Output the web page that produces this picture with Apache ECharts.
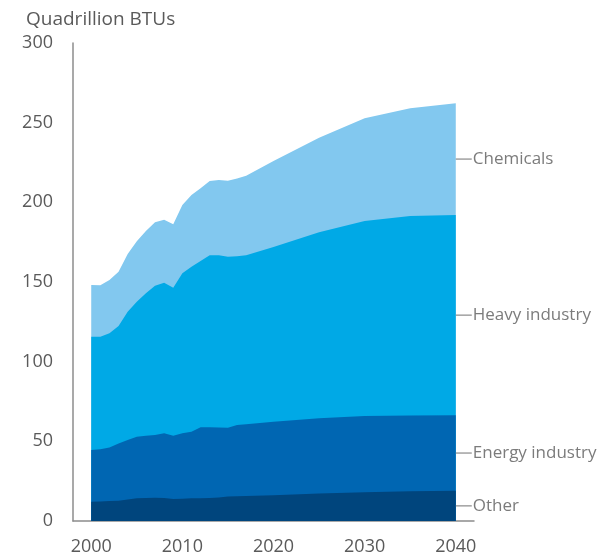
<!DOCTYPE html>
<html>
<head>
<meta charset="utf-8">
<script src="https://cdn.jsdelivr.net/npm/echarts@6/dist/echarts.min.js"></script>
<style>
    html, body { margin: 0; padding: 0; background: #fff; }
    #chart { width: 601px; height: 559px; }
</style>
</head>
<body>
<div id="chart"></div>
<script>
// years (yearly to 2017, then projections)
var years = [2000, 2001, 2002, 2003, 2004, 2005, 2006, 2007, 2008, 2009, 2010, 2011, 2012, 2013, 2014, 2015, 2016, 2017, 2020, 2025, 2030, 2035, 2040];
var other = [12.1, 12.3, 12.5, 12.7, 13.5, 14.2, 14.5, 14.6, 14.4, 13.8, 14.0, 14.2, 14.3, 14.4, 14.8, 15.3, 15.5, 15.7, 16.2, 17.2, 18.0, 18.6, 19.0];
var energyIndustry = [32.5, 32.7, 33.7, 36.0, 37.3, 38.7, 39.0, 39.4, 40.6, 39.7, 41.0, 41.8, 44.5, 44.4, 43.9, 43.3, 44.8, 45.1, 46.1, 47.3, 47.9, 47.6, 47.3];
var heavyIndustry = [71.1, 70.7, 71.6, 73.7, 80.6, 84.7, 89.5, 93.7, 94.6, 92.9, 100.5, 103.6, 104.4, 108.0, 108.1, 107.3, 105.8, 106.0, 109.7, 116.7, 122.4, 125.2, 125.8];
var chemicals = [32.4, 32.3, 33.5, 34.1, 36.1, 37.9, 39.0, 39.8, 39.4, 39.8, 42.8, 45.0, 45.6, 46.6, 47.2, 47.7, 48.9, 49.9, 54.0, 59.4, 64.4, 67.6, 70.1];
var xTicks = [2000, 2010, 2020, 2030, 2040];

var names = ['Other', 'Energy industry', 'Heavy industry', 'Chemicals'];
var colors = ['#00457d', '#0066b2', '#00a9e6', '#82c8ef'];
var values = [other, energyIndustry, heavyIndustry, chemicals];

var textColor = '#5a5a5a';
var font = '"Open Sans", sans-serif';

var myChart = echarts.init(document.getElementById('chart'));

// running totals, each band drawn as an area from zero, top band first
var cumul = [];
for (var i = 0; i < values.length; i++) {
    var row = [];
    for (var j = 0; j < years.length; j++) {
        row.push((i > 0 ? cumul[i - 1][j] : 0) + values[i][j]);
    }
    cumul.push(row);
}

var series = [];
for (var s = values.length - 1; s >= 0; s--) {
    var pts = [];
    for (var j2 = 0; j2 < years.length; j2++) {
        pts.push([years[j2], cumul[s][j2]]);
    }
    series.push({
        name: names[s],
        type: 'line',
        symbol: 'none',
        silent: true,
        lineStyle: { width: 0 },
        areaStyle: { color: colors[s], opacity: 1, origin: 'start' },
        data: pts
    });
}

// end labels: middle of each band at the last year
var last = years.length - 1;
var labelPts = [];
for (var k = 0; k < values.length; k++) {
    labelPts.push({ value: [years[last], cumul[k][last] - values[k][last] / 2], name: names[k] });
}
series.push({
    type: 'scatter',
    symbol: 'rect',
    symbolSize: [16, 1.3],
    symbolOffset: [8, 0],
    silent: true,
    itemStyle: { color: '#777' },
    label: {
        show: true,
        position: 'right',
        distance: 1,
        formatter: '{b}',
        color: textColor,
        fontSize: 17,
        fontFamily: font
    },
    data: labelPts,
    z: 5
});

var option = {
    animation: false,
    title: {
        text: 'Quadrillion BTUs',
        left: 21,
        top: 5,
        textStyle: { color: textColor, fontSize: 19, fontWeight: 'normal', fontFamily: font }
    },
    grid: { left: 73, right: 127, top: 43, bottom: 38, containLabel: false },
    xAxis: {
        type: 'value',
        min: 1998,
        max: 2042,
        splitLine: { show: false },
        axisTick: { show: false },
        axisLine: { lineStyle: { color: '#8c8c8c', width: 1.5 } },
        axisLabel: {
            customValues: xTicks,
            formatter: function (v) { return String(v); },
            color: textColor,
            fontSize: 18,
            fontFamily: font,
            margin: 17
        }
    },
    yAxis: {
        type: 'value',
        min: 0,
        max: 300,
        interval: 50,
        splitLine: { show: false },
        axisTick: { show: false },
        axisLine: { show: true, lineStyle: { color: '#8c8c8c', width: 1.5 } },
        axisLabel: {
            color: textColor,
            fontSize: 18,
            fontFamily: font,
            margin: 20
        }
    },
    series: series
};
myChart.setOption(option);
window.addEventListener('resize', function () {
    myChart.resize();
});
</script>
</body>
</html>
